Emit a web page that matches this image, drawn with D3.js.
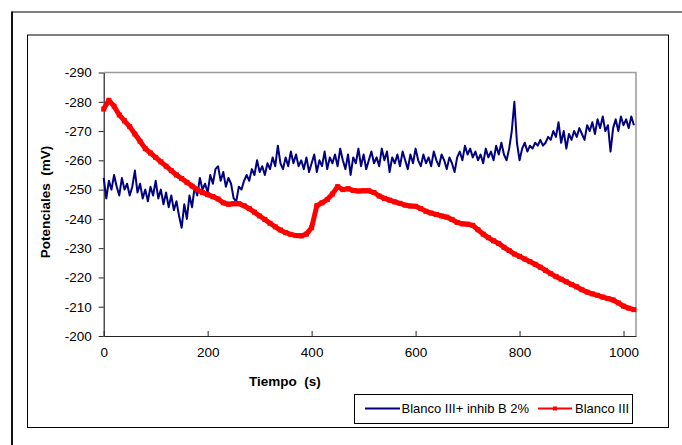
<!DOCTYPE html>
<html>
<head>
<meta charset="utf-8">
<script src="https://cdn.jsdelivr.net/npm/d3@7/dist/d3.min.js"></script>
<style>
  html, body { margin: 0; padding: 0; background: #fff; }
  svg { display: block; }
  text { font-family: "Liberation Sans", Arial, sans-serif; }
</style>
</head>
<body>
<svg id="chart" width="682" height="445"></svg>
<script>
// ---------- data ----------
const seriesNames = ["Blanco III+ inhib B 2%", "Blanco III"];
const xTicks = [0, 200, 400, 600, 800, 1000];
const yTicks = [-290, -280, -270, -260, -250, -240, -230, -220, -210, -200];
const xLabel = "Tiempo  (s)";
const yLabel = "Potenciales  (mV)";

// Blanco III + inhib B 2% : one reading every 5 s
const blueStep = 5;
const blueValues = [
  -254, -247, -253, -250, -255, -251, -248, -254, -250, -252, -248,
  -251, -256.5, -249, -252, -247, -250, -246, -251, -248, -253,
  -247, -250, -245, -249, -244, -248, -243, -246, -241, -237,
  -245, -240, -248, -244, -251, -248, -254, -250, -252, -249,
  -255, -252, -257, -258, -253, -256, -251, -254, -252, -247,
  -246, -251, -250, -253, -255, -253, -257, -255, -260, -256,
  -258, -255, -259, -257, -261, -258, -265, -259, -257, -261,
  -258, -263, -259, -262, -258, -260, -257, -261, -256, -259,
  -262, -256, -260, -258, -263, -257, -261, -259, -262, -258,
  -264, -260, -257, -262, -255, -261, -259, -264, -258, -262,
  -257, -260, -263, -259, -261, -258, -264, -260, -263, -256,
  -261, -259, -262, -258, -263, -260, -257, -262, -259, -264,
  -260, -258, -262, -259, -261, -258, -263, -260, -258, -262,
  -260, -257, -261, -259, -256, -261, -263, -260, -265, -262,
  -264, -261, -263, -260, -262, -259, -264, -261, -263, -260,
  -265, -262, -266, -262, -260, -264, -270, -280, -266, -260,
  -264, -266, -263, -265, -264, -266, -265, -267, -265, -266,
  -268, -267, -270, -268, -273, -266, -270, -264, -269, -267,
  -270, -268, -271, -269, -267, -272, -270, -273, -269, -274,
  -271, -275, -270, -272, -263, -271, -274, -270, -275, -272,
  -274, -271, -275, -272
];

// Blanco III : one reading every 10 s
const redStep = 10;
const redValues = [
  -277.5, -280.5, -278.5, -275.5, -273.5, -271.5, -269, -266.5, -264, -262.5,
  -261, -259.5, -258, -256.5, -255, -253.8, -252.5, -251.2, -250, -249,
  -248.3, -247.6, -246.8, -245.5, -245, -245.2, -245.2, -244.5, -243.5, -242.3,
  -241, -239.8, -238.5, -237.3, -236.2, -235.3, -234.7, -234.3, -234.2, -234.8,
  -237, -244.5, -245.5, -246.6, -248.5, -251, -250, -250.3, -249.7, -249.5,
  -249.6, -249.6, -249, -247.8, -247, -246.4, -245.8, -245.3, -244.7, -244.4,
  -244.3, -243.5, -242.6, -242, -241.5, -241, -240.6, -239.8, -238.8, -238.3,
  -238.2, -237.8, -236.3, -234.8, -233.6, -232.5, -231.6, -230.3, -229.2, -228,
  -227.2, -226.3, -225.4, -224.5, -223.5, -222.4, -221.3, -220.3, -219.4, -218.5,
  -217.6, -216.8, -215.8, -215, -214.4, -213.9, -213.3, -212.8, -212.3, -211.3,
  -210.2, -209.5, -209
];

const xDomain = [0, 1024];
const yDomain = [-290, -200];

// ---------- drawing ----------
const svg = d3.select("#chart");
const BLUE = "#000080", RED = "#ff0000";

// outer frame (only left and top edges visible)
svg.append("line").attr("x1", 12).attr("y1", 12).attr("x2", 682).attr("y2", 12)
  .attr("stroke", "#555").attr("stroke-width", 1.5);
svg.append("line").attr("x1", 12).attr("y1", 11.5).attr("x2", 12).attr("y2", 445)
  .attr("stroke", "#111").attr("stroke-width", 2);

// chart area box
svg.append("rect").attr("x", 27.5).attr("y", 35).attr("width", 641).attr("height", 392.5)
  .attr("fill", "#fff").attr("stroke", "#000").attr("stroke-width", 1);

const plot = { left: 103.7, right: 636, top: 72.5, bottom: 336 };
const x = d3.scaleLinear().domain(xDomain).range([plot.left, plot.right]);
const y = d3.scaleLinear().domain(yDomain).range([plot.top, plot.bottom]);

// plot area border (grey top/right)
svg.append("path")
  .attr("d", `M${plot.left},${plot.top}H${plot.right}V${plot.bottom}`)
  .attr("fill", "none").attr("stroke", "#9a9a9a").attr("stroke-width", 1.5);

// axes
const yAxis = svg.append("g").attr("transform", `translate(${plot.left},0)`)
  .call(d3.axisLeft(y).tickValues(yTicks).tickSizeInner(5).tickSizeOuter(0).tickPadding(7)
    .tickFormat(d3.format("d")));
const xAxis = svg.append("g").attr("transform", `translate(0,${plot.bottom})`)
  .call(d3.axisBottom(x).tickValues(xTicks).tickSizeInner(-5).tickSizeOuter(0).tickPadding(11)
    .tickFormat(d3.format("d")));
[yAxis, xAxis].forEach(g => {
  g.select(".domain").attr("stroke", "#222").attr("stroke-width", 1.2);
  g.selectAll(".tick line").attr("stroke", "#222").attr("stroke-width", 1);
  g.selectAll(".tick text").attr("font-size", 13.5).attr("fill", "#000")
    .attr("font-family", '"Liberation Sans", Arial, sans-serif');
});
yAxis.selectAll(".tick text").text(d => d3.format("d")(d).replace("−", "-"));

// axis titles
svg.append("text").attr("x", 285).attr("y", 386).attr("text-anchor", "middle")
  .attr("font-size", 13.5).attr("font-weight", "bold")
  .style("white-space", "pre").text(xLabel);
svg.append("text").attr("transform", "translate(50,202) rotate(-90)").attr("text-anchor", "middle")
  .attr("font-size", 13.5).attr("font-weight", "bold").style("white-space", "pre").text(yLabel);

// series data
const blueData = blueValues.map((v, i) => ({ t: i * blueStep, v }));
const redData = redValues.map((v, i) => ({ t: i * redStep, v }));
const line = d3.line().x(d => x(d.t)).y(d => y(d.v));

svg.append("clipPath").attr("id", "clip").append("rect")
  .attr("x", plot.left - 4).attr("y", plot.top - 10).attr("width", plot.right - plot.left + 8).attr("height", plot.bottom - plot.top + 14);
const gData = svg.append("g").attr("clip-path", "url(#clip)");

gData.append("path").datum(blueData).attr("d", line)
  .attr("fill", "none").attr("stroke", BLUE).attr("stroke-width", 2).attr("stroke-linejoin", "round");

gData.append("path").datum(redData).attr("d", line)
  .attr("fill", "none").attr("stroke", RED).attr("stroke-width", 5).attr("stroke-linejoin", "round");
const ms = 5;
gData.selectAll("rect.mk").data(redData).join("rect").attr("class", "mk")
  .attr("x", d => x(d.t) - ms / 2).attr("y", d => y(d.v) - ms / 2)
  .attr("width", ms).attr("height", ms).attr("fill", RED);

// legend
const lg = svg.append("g");
lg.append("rect").attr("x", 354.5).attr("y", 394.5).attr("width", 278).attr("height", 29)
  .attr("fill", "#fff").attr("stroke", "#000").attr("stroke-width", 1);
lg.append("line").attr("x1", 365).attr("x2", 400).attr("y1", 408.5).attr("y2", 408.5)
  .attr("stroke", BLUE).attr("stroke-width", 2);
lg.append("text").attr("x", 401.5).attr("y", 413).attr("font-size", 13).text(seriesNames[0]);
lg.append("line").attr("x1", 538).attr("x2", 572).attr("y1", 408.5).attr("y2", 408.5)
  .attr("stroke", RED).attr("stroke-width", 2);
lg.append("rect").attr("x", 553).attr("y", 406.5).attr("width", 4).attr("height", 4).attr("fill", RED);
lg.append("text").attr("x", 575).attr("y", 413).attr("font-size", 13).text(seriesNames[1]);
</script>
</body>
</html>
